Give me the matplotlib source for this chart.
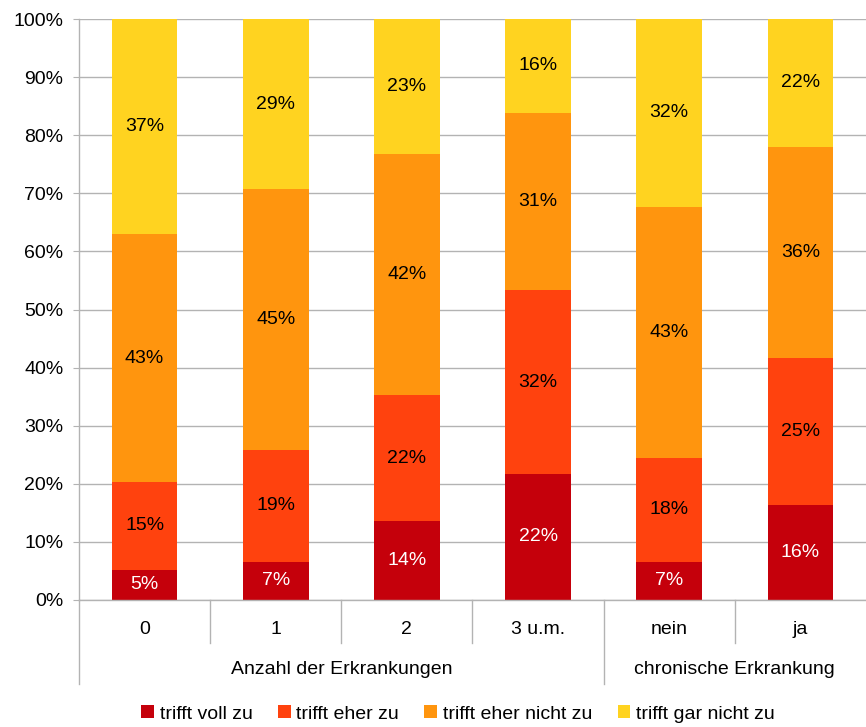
import numpy as np
import matplotlib.pyplot as plt

# Kategorien und Gruppen
kategorien = ["0", "1", "2", "3 u.m.", "nein", "ja"]
gruppen = ["Anzahl der Erkrankungen", "chronische Erkrankung"]
gruppen_mitte = [1.5, 4.5]

serien = ["trifft voll zu", "trifft eher zu", "trifft eher nicht zu", "trifft gar nicht zu"]
farben = ["#c5000b", "#ff420e", "#ff950e", "#ffd320"]
textfarben = ["white", "black", "black", "black"]

# Anteile in Prozent je Kategorie
voll_zu = [5.2, 6.6, 13.6, 21.7, 6.6, 16.3]
eher_zu = [15.1, 19.3, 21.6, 31.6, 17.8, 25.4]
eher_nicht_zu = [42.7, 44.8, 41.6, 30.6, 43.3, 36.3]
gar_nicht_zu = [37.0, 29.3, 23.2, 16.1, 32.3, 22.0]

werte = [voll_zu, eher_zu, eher_nicht_zu, gar_nicht_zu]

plt.rcParams["font.family"] = ["Liberation Sans", "DejaVu Sans"]
plt.rcParams["font.size"] = 14

fig = plt.figure(figsize=(8.66, 7.27), dpi=100)
ax = fig.add_axes([79 / 866, 1 - 600 / 727, 1 - 79 / 866, 581 / 727])

x = np.arange(len(kategorien))
unten = np.zeros(len(kategorien))
for name, w, farbe, tf in zip(serien, werte, farben, textfarben):
    w = np.array(w)
    ax.bar(x, w, 0.5, bottom=unten, color=farbe, label=name, zorder=2)
    for xi, b, v in zip(x, unten, w):
        ax.text(xi, b + v / 2, f"{v:.0f}%", ha="center", va="center",
                color=tf, fontsize=14, zorder=3)
    unten += w

grau = "#b3b3b3"
ax.set_xlim(-0.5, 5.5)
ax.set_ylim(0, 100)
ax.set_yticks(np.arange(0, 101, 10))
ax.set_yticklabels([f"{t}%" for t in range(0, 101, 10)])
ax.yaxis.grid(True, color=grau, lw=1, zorder=0)
ax.tick_params(axis="y", length=4.3, color=grau, pad=7, labelsize=14)
ax.set_xticks([])
for s in ["top", "right"]:
    ax.spines[s].set_visible(False)
for s in ["left", "bottom"]:
    ax.spines[s].set_color(grau)
    ax.spines[s].set_linewidth(1)

# Achsenbeschriftung mit Gruppen
tr = ax.get_xaxis_transform()
for xi, k in zip(x, kategorien):
    ax.text(xi, -30 / 581, k, transform=tr, ha="center", va="center", fontsize=14)
for xm, g in zip(gruppen_mitte, gruppen):
    ax.text(xm, -70 / 581, g, transform=tr, ha="center", va="center", fontsize=14)
for xs in [0.5, 1.5, 2.5, 4.5]:
    ax.plot([xs, xs], [0, -43 / 581], transform=tr, color=grau, lw=1, clip_on=False)
for xs in [-0.5, 3.5]:
    ax.plot([xs, xs], [0, -84 / 581], transform=tr, color=grau, lw=1, clip_on=False)

fig.legend(loc="center", bbox_to_anchor=(458 / 866, 1 - 714 / 727), ncol=4,
           frameon=False, fontsize=14, handlelength=0.65, handleheight=0.65,
           handletextpad=0.3, columnspacing=1.3, borderpad=0)

fig.savefig("out.png", dpi=100)
